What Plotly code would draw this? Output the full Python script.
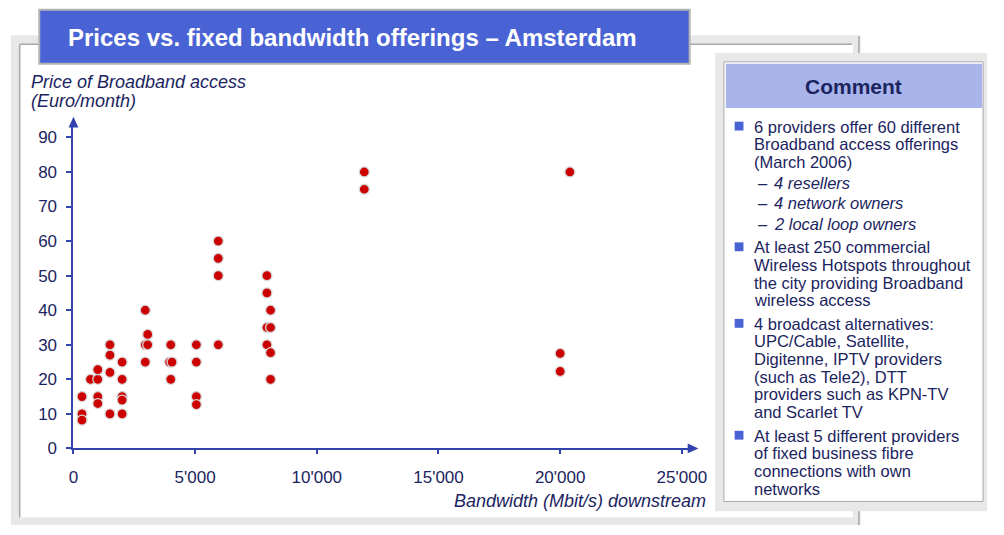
import plotly.graph_objects as go

# Broadband offerings in Amsterdam: downstream bandwidth vs monthly price
bandwidth = [350, 350, 350, 700, 1000, 1000, 1000, 1000,
             1500, 1500, 1500, 1500,
             2000, 2000, 2000, 2000, 2000,
             2950, 3050, 2950, 3050, 2950,
             4000, 3950, 4050, 4000,
             5050, 5050, 5050, 5050,
             5950, 5950, 5950, 5950,
             7950, 7950, 8100, 7950, 8100, 7950, 8100, 8100,
             11950, 11950,
             20400, 20000, 20000]
price = [10, 8.2, 15, 20, 20, 22.8, 15, 13,
         30, 27, 22, 10,
         25, 20, 15, 14, 10,
         40, 33, 30, 30, 25,
         30, 25, 25, 20,
         30, 25, 15, 12.7,
         60, 55, 50, 30,
         50, 45, 40, 35, 35, 30, 27.7, 20,
         80, 75,
         80, 27.5, 22.3]

x_ticks = [0, 5000, 10000, 15000, 20000, 25000]
y_ticks = [0, 10, 20, 30, 40, 50, 60, 70, 80, 90]

title_text = "Prices vs. fixed bandwidth offerings – Amsterdam"
y_title = ["Price of Broadband access", "(Euro/month)"]
x_title = "Bandwidth (Mbit/s) downstream"

comment_lines = [
    ("bullet", "6 providers offer 60 different"),
    ("cont", "Broadband access offerings"),
    ("cont", "(March 2006)"),
    ("sub", "4 resellers"),
    ("sub", "4 network owners"),
    ("sub", "2 local loop owners"),
    ("bullet", "At least 250 commercial"),
    ("cont", "Wireless Hotspots throughout"),
    ("cont", "the city providing Broadband"),
    ("cont", "wireless access"),
    ("bullet", "4 broadcast alternatives:"),
    ("cont", "UPC/Cable, Satellite,"),
    ("cont", "Digitenne, IPTV providers"),
    ("cont", "(such as Tele2), DTT"),
    ("cont", "providers such as KPN-TV"),
    ("cont", "and Scarlet TV"),
    ("bullet", "At least 5 different providers"),
    ("cont", "of fixed business fibre"),
    ("cont", "connections with own"),
    ("cont", "networks"),
]
comment_y = [129, 147, 165, 186, 207, 228, 252, 270, 288, 306,
             330, 348, 366, 384, 402, 420, 444, 462, 480, 498]

W, H = 1004, 535
FONT = "Liberation Sans, Arial, sans-serif"
NAVY = "#1B2460"
AXIS = "#3343AE"
BLUE = "#4A63D4"


def px(x):
    return x / W


def py(y):
    return 1 - y / H


# pixel geometry of the plotting area
X0_PX, X_END_PX = 70, 700
Y0_PX, Y_END_PX = 457, 128
PX_PER_1000 = 24.88
PX_PER_UNIT = 3.522
x_max = (X_END_PX - X0_PX) / PX_PER_1000 * 1000
y_max = (Y0_PX - Y_END_PX) / PX_PER_UNIT

fig = go.Figure()
fig.add_trace(go.Scatter(
    x=bandwidth, y=price, mode="markers",
    marker=dict(size=10, color="#CC0000",
                line=dict(color="#D8D8D8", width=1.3)),
    hoverinfo="x+y", showlegend=False, cliponaxis=False,
))

shapes = []
# chart panel frame
shapes.append(dict(type="rect", xref="paper", yref="paper",
                   x0=px(6), x1=px(875), y0=py(535), y1=py(36),
                   fillcolor="#E8E8E8", line=dict(width=0), layer="below"))
shapes.append(dict(type="rect", xref="paper", yref="paper",
                   x0=px(15), x1=px(867), y0=py(527), y1=py(45),
                   fillcolor="white", line=dict(width=0), layer="below"))
shapes.append(dict(type="line", xref="paper", yref="paper",
                   x0=px(15), x1=px(866), y0=py(45), y1=py(45),
                   line=dict(color="#A8A8A8", width=1.5), layer="below"))
shapes.append(dict(type="line", xref="paper", yref="paper",
                   x0=px(15), x1=px(15), y0=py(45), y1=py(527),
                   line=dict(color="#A8A8A8", width=1.5), layer="below"))
shapes.append(dict(type="line", xref="paper", yref="paper",
                   x0=px(873), x1=px(873), y0=py(37), y1=py(535),
                   line=dict(color="#A8A8A8", width=1.5), layer="below"))

# comment box
shapes.append(dict(type="rect", xref="paper", yref="paper",
                   x0=px(726), x1=px(1004), y0=py(521), y1=py(54),
                   fillcolor="#E8E8E8", line=dict(width=0)))
shapes.append(dict(type="rect", xref="paper", yref="paper",
                   x0=px(735), x1=px(1000), y0=py(511), y1=py(63),
                   fillcolor="white", line=dict(color="#A8A8A8", width=1)))
shapes.append(dict(type="rect", xref="paper", yref="paper",
                   x0=px(737), x1=px(999), y0=py(110), y1=py(65),
                   fillcolor="#A8B4EA", line=dict(width=0)))

# title box
shapes.append(dict(type="rect", xref="paper", yref="paper",
                   x0=px(35), x1=px(700), y0=py(65), y1=py(10),
                   fillcolor=BLUE, line=dict(color="#B4B4B4", width=2)))

# axis arrow heads
shapes.append(dict(type="path", xref="paper", yref="paper",
                   path=f"M {px(X_END_PX - 2)} {py(Y0_PX - 5)} L {px(X_END_PX + 9)} {py(Y0_PX)} "
                        f"L {px(X_END_PX - 2)} {py(Y0_PX + 5)} Z",
                   fillcolor=AXIS, line=dict(width=0)))
shapes.append(dict(type="path", xref="paper", yref="paper",
                   path=f"M {px(X0_PX - 5)} {py(Y_END_PX + 2)} L {px(X0_PX)} {py(Y_END_PX - 9)} "
                        f"L {px(X0_PX + 5)} {py(Y_END_PX + 2)} Z",
                   fillcolor=AXIS, line=dict(width=0)))

# comment bullets
for (kind, _), yy in zip(comment_lines, comment_y):
    if kind == "bullet":
        shapes.append(dict(type="rect", xref="paper", yref="paper",
                           x0=px(746), x1=px(755), y0=py(yy + 4), y1=py(yy - 5),
                           fillcolor=BLUE, line=dict(width=0)))

annotations = []
annotations.append(dict(text=f"<b>{title_text}</b>", xref="paper", yref="paper",
                        x=px(62), y=py(38), xanchor="left", yanchor="middle",
                        showarrow=False, font=dict(family=FONT, size=24, color="white")))
annotations.append(dict(text="<b>Comment</b>", xref="paper", yref="paper",
                        x=px(868), y=py(88), xanchor="center", yanchor="middle",
                        showarrow=False, font=dict(family=FONT, size=21, color=NAVY)))
for i, line in enumerate(y_title):
    annotations.append(dict(text=f"<i>{line}</i>", xref="paper", yref="paper",
                            x=px(25), y=py(84 + 19 * i), xanchor="left", yanchor="middle",
                            showarrow=False, font=dict(family=FONT, size=18, color=NAVY)))
annotations.append(dict(text=f"<i>{x_title}</i>", xref="paper", yref="paper",
                        x=px(719), y=py(511), xanchor="right", yanchor="middle",
                        showarrow=False, font=dict(family=FONT, size=18, color=NAVY)))

for (kind, text), yy in zip(comment_lines, comment_y):
    if kind == "sub":
        annotations.append(dict(text="–", xref="paper", yref="paper",
                                x=px(768), y=py(yy), xanchor="left", yanchor="middle",
                                showarrow=False, font=dict(family=FONT, size=16.5, color=NAVY)))
        annotations.append(dict(text=f"<i>{text}</i>", xref="paper", yref="paper",
                                x=px(784), y=py(yy), xanchor="left", yanchor="middle",
                                showarrow=False, font=dict(family=FONT, size=16.5, color=NAVY)))
    else:
        annotations.append(dict(text=text, xref="paper", yref="paper",
                                x=px(764), y=py(yy), xanchor="left", yanchor="middle",
                                showarrow=False, font=dict(family=FONT, size=16.5, color=NAVY)))

fig.update_layout(
    width=W, height=H,
    margin=dict(l=0, r=0, t=0, b=0),
    paper_bgcolor="white",
    plot_bgcolor="rgba(0,0,0,0)",
    separators=".'",
    shapes=shapes,
    annotations=annotations,
    xaxis=dict(
        domain=[px(X0_PX), px(X_END_PX)],
        range=[0, x_max],
        tickvals=x_ticks, tickformat=",d",
        showgrid=False, zeroline=False,
        showline=True, linecolor=AXIS, linewidth=2,
        ticks="outside", ticklen=4, tickwidth=2, tickcolor=AXIS,
        ticklabelstandoff=8,
        tickfont=dict(family=FONT, size=17, color=NAVY),
    ),
    yaxis=dict(
        domain=[py(Y0_PX), py(Y_END_PX)],
        range=[0, y_max],
        tickvals=y_ticks,
        showgrid=False, zeroline=False,
        showline=True, linecolor=AXIS, linewidth=2,
        ticks="outside", ticklen=5, tickwidth=2, tickcolor=AXIS,
        ticklabelstandoff=6,
        tickfont=dict(family=FONT, size=17, color=NAVY),
    ),
)

fig.write_html("out.html")
